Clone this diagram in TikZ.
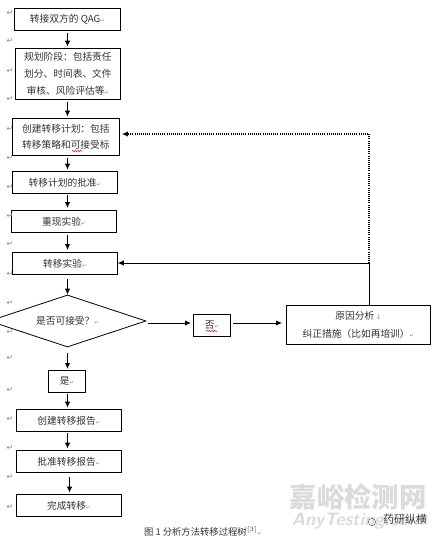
\documentclass[tikz,border=0pt]{standalone}
\usepackage{fontspec}
\usepackage{tikz}
\usetikzlibrary{shapes.geometric,arrows.meta,decorations.pathmorphing}
\setmainfont{Noto Sans CJK SC}
\newfontfamily\symfont{DejaVu Sans}
\newcommand{\pmark}{{\symfont\fontsize{4}{4}\selectfont\color{black!45}↵}}
\definecolor{inkgray}{gray}{0.2}
\definecolor{wmgray}{gray}{0.86}
\tikzset{
    flowbox/.style={draw, line width=0.6pt, anchor=north west, inner sep=0pt, align=center, text=inkgray, font=\fontsize{7.3}{12.5}\selectfont},
    flowarrow/.style={-{Latex[length=4.5pt,width=4pt]}, line width=0.6pt},
    parmark/.style={text=black!45, inner sep=0pt, font=\symfont\fontsize{6}{6}\selectfont},
    squiggle/.style={red!80!black, line width=0.4pt, decorate, decoration={snake,amplitude=0.4pt,segment length=2pt}}
}
\begin{document}
\begin{tikzpicture}[x=0.75pt,y=-0.75pt]
    \useasboundingbox (0,0) rectangle (440,539);
    \clip (0,0) rectangle (440,539);
    \fill[white] (0,0) rectangle (440,539);

    % watermark
    \node (wmcn) at (358,497) [text=wmgray, inner sep=0pt, font=\bfseries\fontsize{20.5}{21}\selectfont] {嘉峪检测网};
    \node (wmen) at (358,521) [text=wmgray, inner sep=0pt, font=\sffamily\bfseries\itshape\fontsize{13.5}{14}\selectfont] {AnyTesting.com};
    \node (wechat) at (372,522) [draw=black!60, circle, line width=0.4pt, minimum size=5.5pt, inner sep=0pt] {};
    \node (wmname) at (405,519) [text=black!75, inner sep=0pt, font=\fontsize{8.25}{9}\selectfont] {药研纵横};

    % boxes
    \node (qag) at (14,8) [flowbox, minimum width=79.5pt, minimum height=16.5pt] {转接双方的 QAG\pmark};
    \node (plan) at (15,48) [flowbox, minimum width=78.75pt, minimum height=38.25pt] {规划阶段：包括责任\\划分、时间表、文件\\审核、风险评估等\pmark};
    \node (create) at (12,118) [flowbox, minimum width=80.25pt, minimum height=27.75pt] {创建转移计划：包括\\转移策略和可接受标};
    \node (approve) at (12,171) [flowbox, minimum width=78.75pt, minimum height=16.5pt] {转移计划的批准\pmark};
    \node (repeat) at (11,210) [flowbox, minimum width=78.75pt, minimum height=16.5pt] {重现实验\pmark};
    \node (trans) at (12,252) [flowbox, minimum width=78.75pt, minimum height=16.5pt] {转移实验\pmark};
    \node (accept) at (67.5,321) [draw, line width=0.6pt, diamond, aspect=3, minimum width=117.75pt, minimum height=39pt, inner sep=0pt, text=inkgray, font=\fontsize{7.3}{9}\selectfont] {是否可接受？\pmark};
    \node (no) at (193,314) [flowbox, minimum width=27.75pt, minimum height=16.5pt] {否\pmark};
    \node (cause) at (286,305) [flowbox, minimum width=108pt, minimum height=29.25pt, font=\fontsize{7.3}{13.5}\selectfont] {原因分析\,{\symfont\fontsize{5}{5}\selectfont\color{black!45}↓}\\纠正措施（比如再培训）\pmark};
    \node (yes) at (48,370) [flowbox, minimum width=27.75pt, minimum height=16.5pt] {是\pmark};
    \node (report) at (16,409) [flowbox, minimum width=78.75pt, minimum height=16.5pt] {创建转移报告\pmark};
    \node (sign) at (16,450) [flowbox, minimum width=78.75pt, minimum height=16.5pt] {批准转移报告\pmark};
    \node (done) at (16,494) [flowbox, minimum width=78.75pt, minimum height=16.5pt] {完成转移\pmark};

    % free ends
    \coordinate (spine) at (67.5,0);
    \coordinate (midline) at (0,323);
    \coordinate (turn) at (369,263);
    \coordinate (top) at (369,134);

    % arrows, a small gap is left at each box
    \draw[flowarrow] ([yshift=-1.5pt]qag.south -| spine) -- ([yshift=1pt]plan.north -| spine);
    \draw[flowarrow] ([yshift=-1.5pt]plan.south -| spine) -- ([yshift=1pt]create.north -| spine);
    \draw[flowarrow] ([yshift=-1.5pt]create.south -| spine) -- ([yshift=1pt]approve.north -| spine);
    \draw[flowarrow] ([yshift=-1pt]approve.south -| spine) -- ([yshift=1.5pt]repeat.north -| spine);
    \draw[flowarrow] ([yshift=-2pt]repeat.south -| spine) -- ([yshift=1.5pt]trans.north -| spine);
    \draw[flowarrow] ([yshift=-3.5pt]trans.south -| spine) -- (accept.north);
    \draw[flowarrow] ([yshift=-4.5pt]accept.south) -- ([yshift=0.75pt]yes.north -| spine);
    \draw[flowarrow] ([xshift=1.5pt]accept.east |- midline) -- ([xshift=-1.5pt]no.west |- midline);
    \draw[flowarrow] ([xshift=1.5pt]no.east |- midline) -- ([xshift=-3pt]cause.west |- midline);
    \draw[flowarrow] ([yshift=-1pt]yes.south -| spine) -- ([yshift=1pt]report.north -| spine);
    \draw[flowarrow] ([yshift=-1pt]report.south -| spine) -- ([yshift=1pt]sign.north -| spine);
    \draw[flowarrow] ([xshift=1.5pt,yshift=-3pt]sign.south -| spine) -- ([xshift=1.5pt,yshift=1pt]done.north -| spine);
    \draw[flowarrow] (cause.north -| turn) -- (turn) -- (trans.east |- turn);
    \draw[flowarrow, densely dotted, line width=0.9pt] (turn) -- (top) -- ([xshift=1.5pt]create.east |- top);

    % spell check marks
    \draw[squiggle] (72,151) -- (82,151);
    \draw[squiggle] (206,331) -- (217,331);

    % paragraph marks
    \foreach \y [count=\i] in {13,41,71,99,129,158,187,216,244,274,303,332,358,390,419,448,477,507}
        \node (mark\i) at (10,\y) [parmark] {↵};

    % caption
    \node (caption) at (203,531) [inner sep=0pt, text=inkgray, font=\fontsize{7}{8}\selectfont] {图 1 分析方法转移过程树$^{[3]}$\pmark};
\end{tikzpicture}
\end{document}
